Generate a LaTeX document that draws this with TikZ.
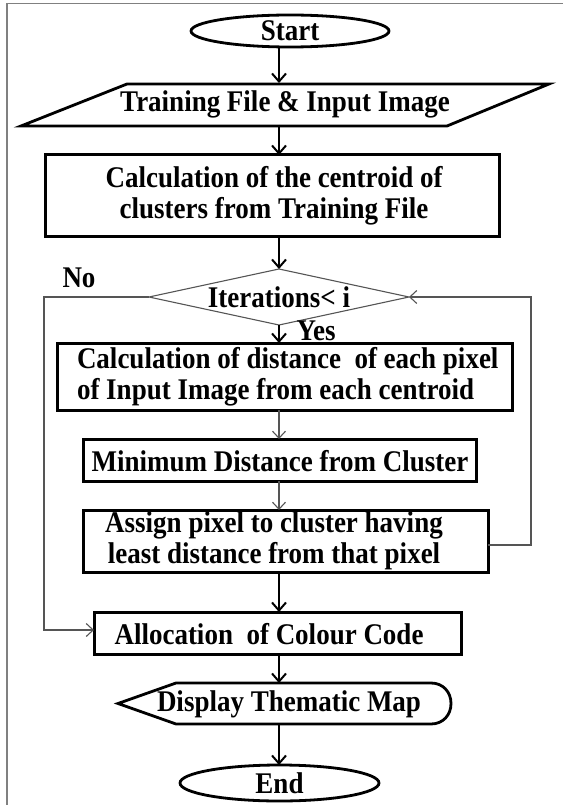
\documentclass[tikz,border=0pt]{standalone}
\usepackage{fontspec}
\setmainfont[FakeStretch=0.9]{Liberation Serif}
\usetikzlibrary{arrows.meta,shapes.geometric,calc}
\definecolor{thingray}{HTML}{555555}
\definecolor{framegray}{HTML}{808080}
\begin{document}
\begin{tikzpicture}[x=1pt,y=-1pt,
  every node/.style={font=\bfseries\fontsize{30}{31}\selectfont, inner sep=0pt, outer sep=0pt},
  ell/.style={draw, ellipse, line width=2.8pt},
  boxs/.style={draw, rectangle, line width=3pt},
  heavy/.style={line width=2.8pt, line join=miter},
  thinl/.style={line width=1.1pt, draw=thingray},
  arr/.style={line width=2pt, -{Straight Barb[length=8pt,width=14pt]}},
  thinarr/.style={line width=1.1pt, draw=thingray, -{Straight Barb[length=7pt,width=13pt]}}
]
\useasboundingbox (0,0) rectangle (563,805);
\draw[framegray, line width=1.5pt] (7,805) -- (7,3.5) -- (563,3.5);
\coordinate (ax) at (279,0);

% Start
\node[ell, minimum width=198pt, minimum height=32pt] (start) at (290,31) {Start};

% input parallelogram
\node[minimum height=42pt] (input) at (285,104) {Training File \& Input Image};
\draw[heavy] (127,84) -- (549,84) -- (447,126) -- (21,126) -- cycle;

% box 1
\node[boxs, minimum width=454pt, minimum height=81pt] (b1) at (272,195.5) {};
\node[align=center] (b1t) at (274,196) {Calculation of the centroid of\\clusters from Training File};

% decision
\node[minimum width=260pt, minimum height=56pt] (dec) at (279,297) {};
\draw[thinl] (dec.north) -- (dec.east) -- (dec.south) -- (dec.west) -- cycle;
\node (dect) at (279,297) {Iterations< i};
\node (no) at (79,278) {No};
\node[anchor=south] (yes) at (316,340.5) {Yes};

% box 2
\node[boxs, minimum width=455pt, minimum height=67pt] (b2) at (284.5,376.5) {};
\node[anchor=west, align=left] (b2t) at (77,377) {Calculation of distance\ \ of each pixel\\of Input Image from each centroid};

% box 3
\node[boxs, minimum width=393pt, minimum height=42pt] (b3) at (279.5,460) {};
\node (b3t) at (280,461) {Minimum Distance from Cluster};

% box 4
\node[boxs, minimum width=405pt, minimum height=62pt] (b4) at (285.5,541) {};
\node[align=center] (b4t) at (274,541) {Assign pixel to cluster having\\least distance from that pixel};

% box 5
\node[boxs, minimum width=367pt, minimum height=42pt] (b5) at (277.5,633) {};
\node (b5t) at (269,634) {Allocation\ \ of Colour Code};

% display
\node[minimum width=333pt, minimum height=41pt] (disp) at (284.5,703.5) {};
\draw[heavy] (118,703.5) -- (176,683) -- (431,683)
  .. controls (443,683) and (451,692) .. (451,703.5)
  .. controls (451,715) and (443,724) .. (431,724) -- (176,724) -- cycle;
\node (dispt) at (289,704) {Display Thematic Map};

% End
\node[ell, minimum width=199pt, minimum height=36pt] (end) at (279.5,783) {End};

% connectors
\draw[arr] (start.south -| ax) -- (input.north -| ax);
\draw[arr] (input.south -| ax) -- (b1.north -| ax);
\draw[arr] (b1.south -| ax) -- (dec.north);
\draw[arr] (dec.south) -- (b2.north -| ax);
\draw[thinarr] (b2.south -| ax) -- (b3.north -| ax);
\draw[thinarr] (b3.south -| ax) -- (b4.north -| ax);
\draw[arr] (b4.south -| ax) -- (b5.north -| ax);
\draw[arr] (b5.south -| ax) -- (disp.north -| ax);
\draw[arr] (disp.south -| ax) -- (end.north -| ax);

\coordinate (nobend) at (44,630);
\draw[thinarr] (dec.west) -| (nobend) -- (b5.west |- nobend);
\coordinate (lp) at (531,545);
\draw[thinarr] (b4.east |- lp) -- (lp) |- (dec.east);
\end{tikzpicture}
\end{document}
